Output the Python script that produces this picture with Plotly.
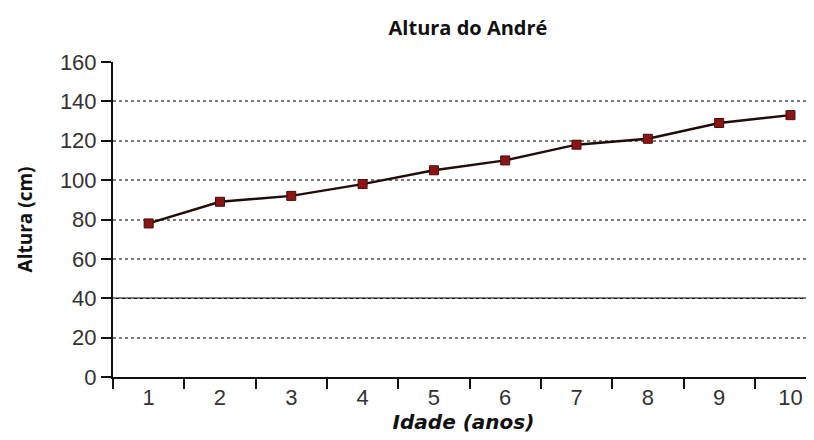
import plotly.graph_objects as go

idade = [1, 2, 3, 4, 5, 6, 7, 8, 9, 10]
altura = [78, 89, 92, 98, 105, 110, 118, 121, 129, 133]
y_ticks = [0, 20, 40, 60, 80, 100, 120, 140, 160]

fig = go.Figure()
fig.add_trace(go.Scatter(
    x=idade, y=altura, mode="lines+markers",
    line=dict(color="#1f0d08", width=2.4),
    marker=dict(symbol="square", size=9, color="#8b1414",
                line=dict(color="#4a0a0a", width=1)),
    showlegend=False, cliponaxis=False,
))

fig.add_hline(y=40, line=dict(color="#111111", width=1.6), layer="below")

fig.update_layout(
    width=806, height=432,
    margin=dict(l=105, r=0, t=54, b=63),
    paper_bgcolor="white", plot_bgcolor="white",
    title=dict(text="<b>Altura do André</b>", x=0.5707, xanchor="center",
               y=0.954, yanchor="middle",
               font=dict(family="Open Sans, Liberation Sans, Arial", size=20, color="#111")),
    font=dict(family="Liberation Sans, Arial", color="#333"),
)
fig.update_xaxes(
    range=[0.5, 10.33], tickmode="array", tickvals=idade,
    ticktext=[str(v) for v in idade], ticks="", showgrid=False,
    showline=True, linecolor="#111", linewidth=2,
    tickfont=dict(size=22, color="#333"),
    minor=dict(tickmode="array", tickvals=[v - 0.5 for v in idade],
               ticks="outside", ticklen=10, tickwidth=1.6, tickcolor="#111",
               showgrid=False),
    title=dict(text="<b><i>Idade (anos)</i></b>", standoff=2,
               font=dict(family="DejaVu Sans", size=20, color="#111")),
    zeroline=False,
)
fig.update_yaxes(
    range=[0, 160], tickmode="array", tickvals=y_ticks,
    ticks="outside", ticklen=10, tickwidth=1.6, tickcolor="#111",
    showgrid=True, gridcolor="#7a7a7a", griddash="dot", gridwidth=1.5,
    showline=True, linecolor="#111", linewidth=2,
    tickfont=dict(size=22, color="#333"),
    title=dict(text="<b>Altura (cm)</b>", standoff=22,
               font=dict(family="Open Sans, Liberation Sans, Arial", size=19, color="#111")),
    zeroline=False,
)

fig.write_html("out.html")
